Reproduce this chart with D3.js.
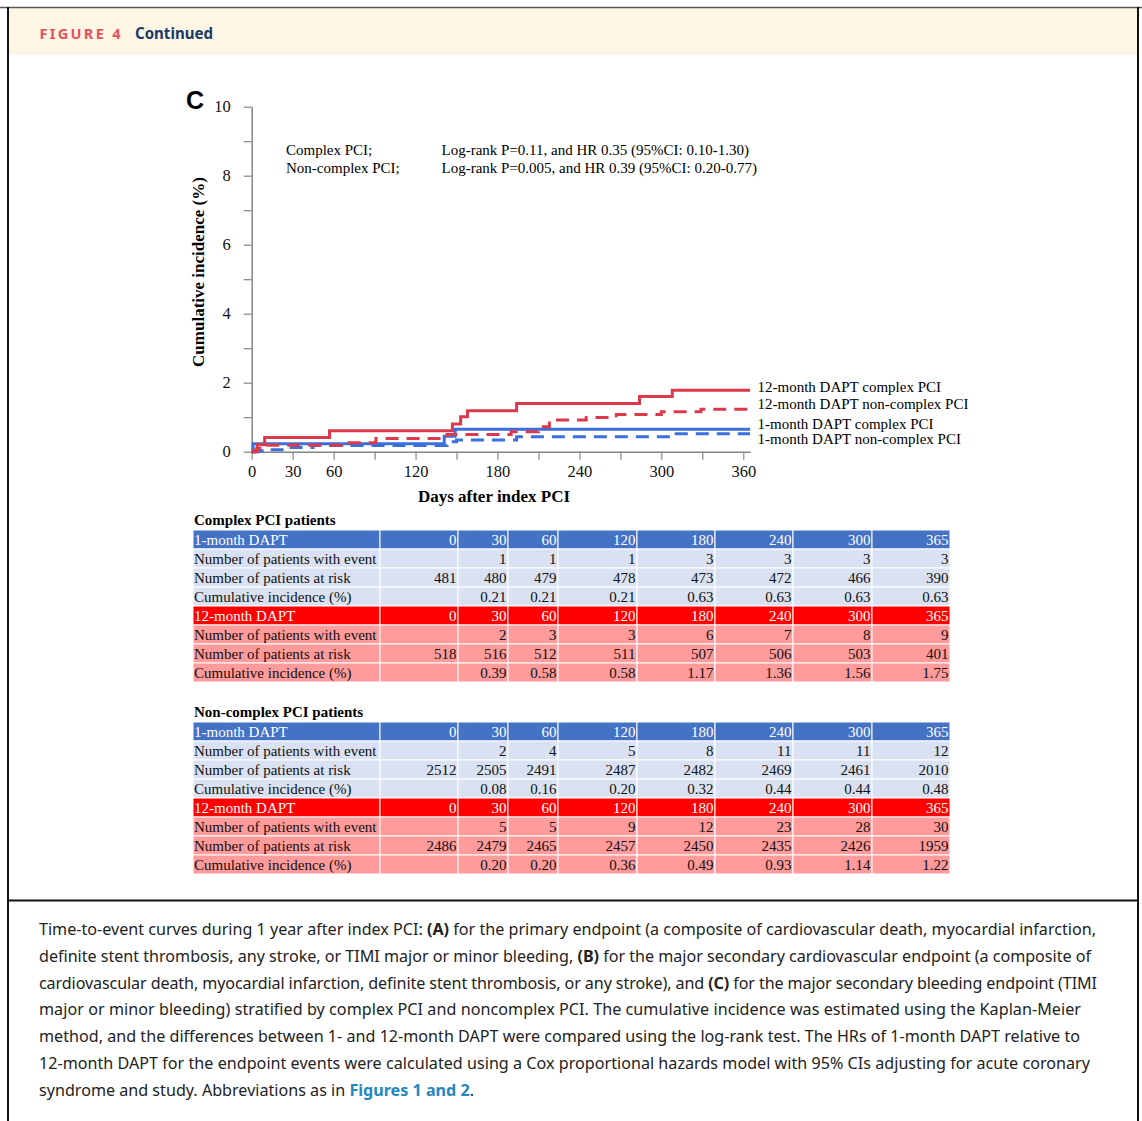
<!DOCTYPE html>
<html><head><meta charset="utf-8">
<script src="https://cdn.jsdelivr.net/npm/d3@7"></script>
<style>body{margin:0;background:#fff}svg{display:block}</style>
</head><body><svg id="c" width="1142" height="1121"></svg>
<script>
// ---------- data ----------
const timePoints = [0, 30, 60, 120, 180, 240, 300, 365];
const xTickValues = [0, 30, 60, 90, 120, 150, 180, 210, 240, 270, 300, 330, 360];
const xTickLabels = [0, 30, 60, 120, 180, 240, 300, 360];
const yTickValues = [0, 1, 2, 3, 4, 5, 6, 7, 8, 9, 10];
const yTickLabels = [0, 2, 4, 6, 8, 10];

// Kaplan-Meier step points [day, cumulative incidence %]
const kmComplex12 = [[0,0],[4,0.20],[9.5,0.41],[57,0.61],[147,0.80],[153,1.01],[158,1.19],[194,1.40],[284,1.60],[308,1.78],[365,1.78]];
const kmNonComplex12 = [[0,0],[2,0.05],[4,0.10],[6,0.15],[9,0.19],[66,0.26],[91,0.38],[143,0.50],[190,0.58],[210,0.72],[218,0.92],[245,0.99],[267,1.08],[300,1.16],[329,1.23],[365,1.23]];
const kmComplex1 = [[0,0],[1,0.23],[141,0.45],[149,0.65],[365,0.65]];
const kmNonComplex1 = [[0,0],[5,0.03],[12,0.06],[25,0.12],[45,0.18],[143,0.29],[150,0.34],[194,0.43],[308,0.52],[365,0.52]];

const seriesNames = ["12-month DAPT complex PCI", "12-month DAPT non-complex PCI", "1-month DAPT complex PCI", "1-month DAPT non-complex PCI"];

const complex1Events = [null,1,1,1,3,3,3,3];
const complex1Risk = [481,480,479,478,473,472,466,390];
const complex1Cum = [null,0.21,0.21,0.21,0.63,0.63,0.63,0.63];
const complex12Events = [null,2,3,3,6,7,8,9];
const complex12Risk = [518,516,512,511,507,506,503,401];
const complex12Cum = [null,0.39,0.58,0.58,1.17,1.36,1.56,1.75];
const noncomplex1Events = [null,2,4,5,8,11,11,12];
const noncomplex1Risk = [2512,2505,2491,2487,2482,2469,2461,2010];
const noncomplex1Cum = [null,0.08,0.16,0.20,0.32,0.44,0.44,0.48];
const noncomplex12Events = [null,5,5,9,12,23,28,30];
const noncomplex12Risk = [2486,2479,2465,2457,2450,2435,2426,1959];
const noncomplex12Cum = [null,0.20,0.20,0.36,0.49,0.93,1.14,1.22];

const captionLines = [
 [["Time-to-event curves during 1 year after index PCI: ",0],["(A)",1],[" for the primary endpoint (a composite of cardiovascular death, myocardial infarction,",0]],
 [["definite stent thrombosis, any stroke, or TIMI major or minor bleeding, ",0],["(B)",1],[" for the major secondary cardiovascular endpoint (a composite of",0]],
 [["cardiovascular death, myocardial infarction, definite stent thrombosis, or any stroke), and ",0],["(C)",1],[" for the major secondary bleeding endpoint (TIMI",0]],
 [["major or minor bleeding) stratified by complex PCI and noncomplex PCI. The cumulative incidence was estimated using the Kaplan-Meier",0]],
 [["method, and the differences between 1- and 12-month DAPT were compared using the log-rank test. The HRs of 1-month DAPT relative to",0]],
 [["12-month DAPT for the endpoint events were calculated using a Cox proportional hazards model with 95% CIs adjusting for acute coronary",0]],
 [["syndrome and study. Abbreviations as in ",0],["Figures 1 and 2",2],[".",0]]
];

// ---------- drawing ----------
const svg = d3.select("#c");
const SERIF = "'Liberation Serif','Times New Roman',serif";
const RED = "#DB3A4C", BLUE = "#3B6FDB";

// frame
svg.append("rect").attr("x",9).attr("y",8.5).attr("width",1128).attr("height",46).attr("fill","#FEF6E4");
svg.append("line").attr("x1",0).attr("x2",1142).attr("y1",7.5).attr("y2",7.5).attr("stroke","#555").attr("stroke-width",1.5);
svg.append("line").attr("x1",8).attr("x2",8).attr("y1",7).attr("y2",1121).attr("stroke","#111").attr("stroke-width",2);
svg.append("line").attr("x1",1138).attr("x2",1138).attr("y1",7).attr("y2",1121).attr("stroke","#111").attr("stroke-width",2);
svg.append("line").attr("x1",8).attr("x2",1138).attr("y1",900.5).attr("y2",900.5).attr("stroke","#111").attr("stroke-width",2);

svg.append("text").attr("x",39.5).attr("y",39).text("FIGURE 4")
  .attr("font-family","'Noto Sans',sans-serif").attr("font-weight","bold").attr("font-size",14.5)
  .attr("fill","#E8505B").attr("textLength",81).attr("lengthAdjust","spacing");
svg.append("text").attr("x",135).attr("y",39).text("Continued")
  .attr("font-family","'Noto Sans',sans-serif").attr("font-weight","bold").attr("font-size",16.5)
  .attr("fill","#1A3A6A").attr("textLength",78).attr("lengthAdjust","spacingAndGlyphs");

// chart
const x = d3.scaleLinear().domain([0,365]).range([251.7, 750.1]);
const y = d3.scaleLinear().domain([0,10]).range([451.7, 106.7]);
const AXC = "#858585";

const gy = svg.append("g").attr("transform",`translate(${x(0)},0)`)
  .call(d3.axisLeft(y).tickValues(yTickValues).tickSize(8).tickSizeOuter(0).tickPadding(13)
    .tickFormat(d => yTickLabels.includes(d) ? d : ""));
const gx = svg.append("g").attr("transform",`translate(0,${y(0)})`)
  .call(d3.axisBottom(x).tickValues(xTickValues).tickSize(8).tickSizeOuter(0).tickPadding(6)
    .tickFormat(d => xTickLabels.includes(d) ? d : ""));
[gx, gy].forEach(g => {
  g.select(".domain").attr("stroke",AXC).attr("stroke-width",1.5);
  g.selectAll(".tick line").attr("stroke",AXC).attr("stroke-width",1.2);
  g.selectAll(".tick text").attr("font-family",SERIF).attr("font-size",16.5).attr("fill","#111");
});

svg.append("text").attr("x",186).attr("y",109).text("C")
  .attr("font-family","'Liberation Sans',Arial,sans-serif").attr("font-weight","bold").attr("font-size",25);

svg.append("text").attr("transform","translate(204,272) rotate(-90)").attr("text-anchor","middle")
  .text("Cumulative incidence (%)").attr("font-family",SERIF).attr("font-weight","bold").attr("font-size",17);
svg.append("text").attr("x",494).attr("y",502).attr("text-anchor","middle")
  .text("Days after index PCI").attr("font-family",SERIF).attr("font-weight","bold").attr("font-size",17);

const ann = [["Complex PCI;","Log-rank P=0.11, and HR 0.35 (95%CI: 0.10-1.30)",155],
             ["Non-complex PCI;","Log-rank P=0.005, and HR 0.39 (95%CI: 0.20-0.77)",172.5]];
ann.forEach(a => {
  svg.append("text").attr("x",286).attr("y",a[2]).text(a[0]).attr("font-family",SERIF).attr("font-size",15);
  svg.append("text").attr("x",441.5).attr("y",a[2]).text(a[1]).attr("font-family",SERIF).attr("font-size",15);
});

const line = d3.line().x(d => x(d[0])).y(d => y(d[1])).curve(d3.curveStepAfter);
const curves = [
  {data: kmNonComplex1, color: BLUE, dash: "13,8"},
  {data: kmComplex1, color: BLUE, dash: null},
  {data: kmNonComplex12, color: RED, dash: "13,8"},
  {data: kmComplex12, color: RED, dash: null}
];
curves.forEach(c => {
  svg.append("path").attr("d", line(c.data)).attr("fill","none").attr("stroke",c.color)
    .attr("stroke-width",3).attr("stroke-dasharray",c.dash);
});

const legY = [392, 408.5, 428.5, 444];
seriesNames.forEach((n,i) => {
  svg.append("text").attr("x",757.5).attr("y",legY[i]).text(n).attr("font-family",SERIF).attr("font-size",15);
});

// tables
const colX = [193,380,458,508,558,637,715,793,872,950];
const rowH = 19;
function fmtCum(v){ return v == null ? "" : v.toFixed(2); }
function drawTable(top, title, groups){
  svg.append("text").attr("x",194).attr("y",top-5).text(title)
    .attr("font-family",SERIF).attr("font-weight","bold").attr("font-size",15);
  let r = 0;
  groups.forEach(gp => {
    const rows = [
      {cells:[gp.label, ...timePoints], fill:gp.dark, color:"#fff"},
      {cells:["Number of patients with event", ...gp.events.map(v=>v==null?"":v)], fill:gp.light, color:"#111"},
      {cells:["Number of patients at risk", ...gp.risk], fill:gp.light, color:"#111"},
      {cells:["Cumulative incidence (%)", ...gp.cum.map(fmtCum)], fill:gp.light, color:"#111"}
    ];
    rows.forEach(row => {
      const ty = top + r*rowH;
      row.cells.forEach((c,j) => {
        svg.append("rect").attr("x",colX[j]).attr("y",ty).attr("width",colX[j+1]-colX[j]).attr("height",rowH)
          .attr("fill",row.fill).attr("stroke","#fff").attr("stroke-width",1);
        const t = svg.append("text").attr("y",ty+15).text(c)
          .attr("font-family",SERIF).attr("font-size",15).attr("fill",row.color);
        if (j===0) t.attr("x",colX[0]+1);
        else t.attr("x",colX[j+1]-1.5).attr("text-anchor","end");
      });
      r++;
    });
  });
}
drawTable(530, "Complex PCI patients", [
  {label:"1-month DAPT", dark:"#4472C4", light:"#D9E1F2", events:complex1Events, risk:complex1Risk, cum:complex1Cum},
  {label:"12-month DAPT", dark:"#FF0000", light:"#FF9B9B", events:complex12Events, risk:complex12Risk, cum:complex12Cum}
]);
drawTable(722, "Non-complex PCI patients", [
  {label:"1-month DAPT", dark:"#4472C4", light:"#D9E1F2", events:noncomplex1Events, risk:noncomplex1Risk, cum:noncomplex1Cum},
  {label:"12-month DAPT", dark:"#FF0000", light:"#FF9B9B", events:noncomplex12Events, risk:noncomplex12Risk, cum:noncomplex12Cum}
]);

// caption
const capEnds = [1096,1091,1097,1081,1080,1090,474];
const capFont = "'Noto Sans',sans-serif";
let capSize = 16;
const probe = svg.append("text").attr("font-family",capFont).attr("font-size",capSize);
captionLines[0].forEach(s => probe.append("tspan").text(s[0]).attr("font-weight", s[1]?"bold":"normal"));
const w0 = probe.node().getComputedTextLength();
probe.remove();
capSize = capSize * (capEnds[0]-39) / w0;
captionLines.forEach((ln,i) => {
  const t = svg.append("text").attr("x",39).attr("y",935 + i*26.8)
    .attr("font-family",capFont).attr("font-size",capSize).attr("fill","#222");
  ln.forEach(s => {
    const sp = t.append("tspan").text(s[0]);
    if (s[1]===1) sp.attr("font-weight","bold");
    if (s[1]===2) sp.attr("font-weight","bold").attr("fill","#1F87C2");
  });
  t.attr("textLength", capEnds[i]-39).attr("lengthAdjust","spacing");
});
</script></body></html>
